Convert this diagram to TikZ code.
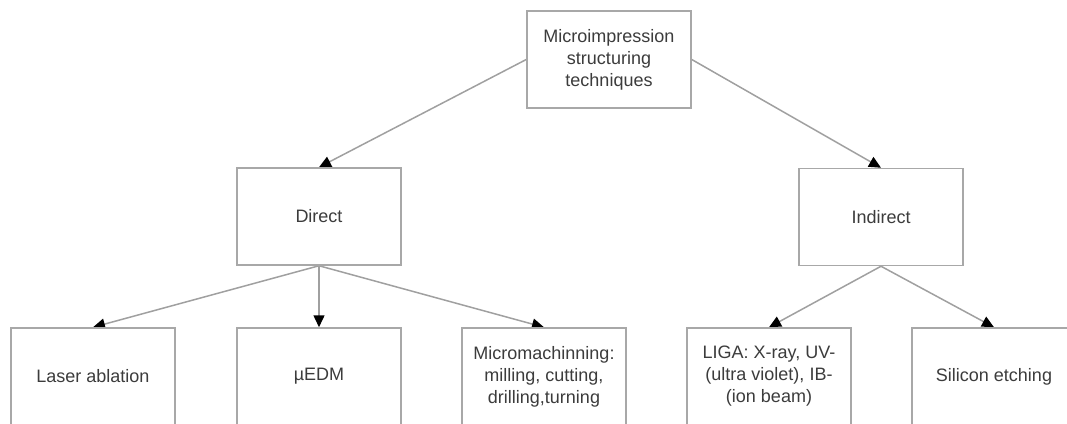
\documentclass[tikz,border=0pt]{standalone}
\usepackage{fontspec}
\setmainfont{Liberation Sans}
\usetikzlibrary{arrows.meta,backgrounds}
\definecolor{boxc}{HTML}{A8A8A8}
\definecolor{linec}{HTML}{A0A0A0}
\definecolor{txtc}{HTML}{3C3C3C}
\begin{document}
\begin{tikzpicture}[x=1pt,y=-1pt,
  box/.style={draw=boxc, line width=1.5pt, fill=white, minimum width=164pt,
    minimum height=97pt, inner sep=0pt, align=center, text=txtc,
    font=\fontsize{18}{22}\selectfont},
  conn/.style={draw=linec, line width=1.5pt,
    -{Triangle[length=12pt,width=11pt,color=black]}}]
\useasboundingbox (0,0) rectangle (1067,423);
\clip (0,0) rectangle (1067,423);
\node[box] (top) at (609,59.5) {Microimpression\\structuring\\techniques};
\node[box] (direct) at (319,216.5) {Direct};
\node[box] (indirect) at (881,217) {Indirect};
\node[box] (laser) at (93,376.5) {Laser ablation};
\node[box] (edm) at (319,376.5) {µEDM};
\node[box] (micro) at (544,376.5) {Micromachinning:\\milling, cutting,\\drilling,turning};
\node[box] (liga) at (769,376.5) {LIGA: X-ray, UV-\\(ultra violet), IB-\\(ion beam)};
\node[box] (si) at (994,376.5) {Silicon etching};
\begin{pgfonlayer}{background}
\draw[conn] (top.west) -- (direct.north);
\draw[conn] (top.east) -- (indirect.north);
\draw[conn] (direct.south) -- (laser.north);
\draw[conn] (direct.south) -- (edm.north);
\draw[conn] (direct.south) -- (micro.north);
\draw[conn] (indirect.south) -- (liga.north);
\draw[conn] (indirect.south) -- (si.north);
\end{pgfonlayer}
\end{tikzpicture}
\end{document}
